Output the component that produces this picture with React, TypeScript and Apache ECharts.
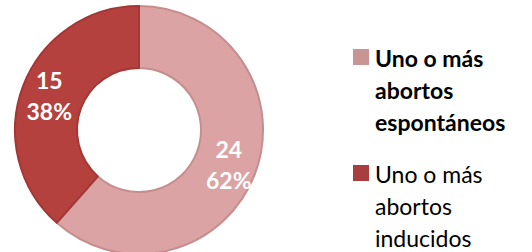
import React, { useEffect, useRef } from "react";
import * as echarts from "echarts";

const categories = ["Uno o más abortos espontáneos", "Uno o más abortos inducidos"];
const legendLines = [
  ["Uno o más", "abortos", "espontáneos"],
  ["Uno o más", "abortos", "inducidos"],
];
const values = [24, 15];
const percents = ["62%", "38%"];
const sliceColors = ["#dba3a3", "#b5413f"];
const sliceBorders = ["#c68d8d", "#a23735"];
const legendColors = ["#c99494", "#a83f3f"];

export default function App() {
  const ref = useRef<HTMLDivElement>(null);
  useEffect(() => {
    const chart = echarts.init(ref.current!, null, { renderer: "svg" });
    const font = "Lato, 'Open Sans', sans-serif";
    chart.setOption({
      animation: false,
      series: [
        {
          type: "pie",
          center: [139, 130],
          radius: [62, 124],
          startAngle: 90,
          clockwise: true,
          silent: true,
          label: {
            show: true,
            position: "inside",
            color: "#ffffff",
            fontFamily: font,
            fontWeight: "bold",
            fontSize: 23,
            lineHeight: 31,
            formatter: (p: any) => `${p.value}\n${percents[p.dataIndex]}`,
          },
          labelLine: { show: false },
          data: categories.map((name, i) => ({
            name,
            value: values[i],
            itemStyle: { color: sliceColors[i], borderColor: sliceBorders[i], borderWidth: 2 },
          })),
        },
      ],
      graphic: legendLines.flatMap((lines, i) => {
        const top = i === 0 ? 49 : 165;
        return [
          {
            type: "rect",
            shape: { x: 353, y: top, width: 16, height: 16 },
            style: { fill: legendColors[i] },
          },
          {
            type: "text",
            x: 375,
            y: top - 7,
            style: {
              text: lines.join("\n"),
              fontFamily: font,
              fontSize: 23,
              fontWeight: i === 0 ? "bold" : "normal",
              lineHeight: 32,
              fill: "#000000",
              verticalAlign: "top",
            },
          },
        ];
      }),
    });
    return () => chart.dispose();
  }, []);
  return <div ref={ref} style={{ width: 532, height: 252, position: "absolute", left: 0, top: 0 }} />;
}
